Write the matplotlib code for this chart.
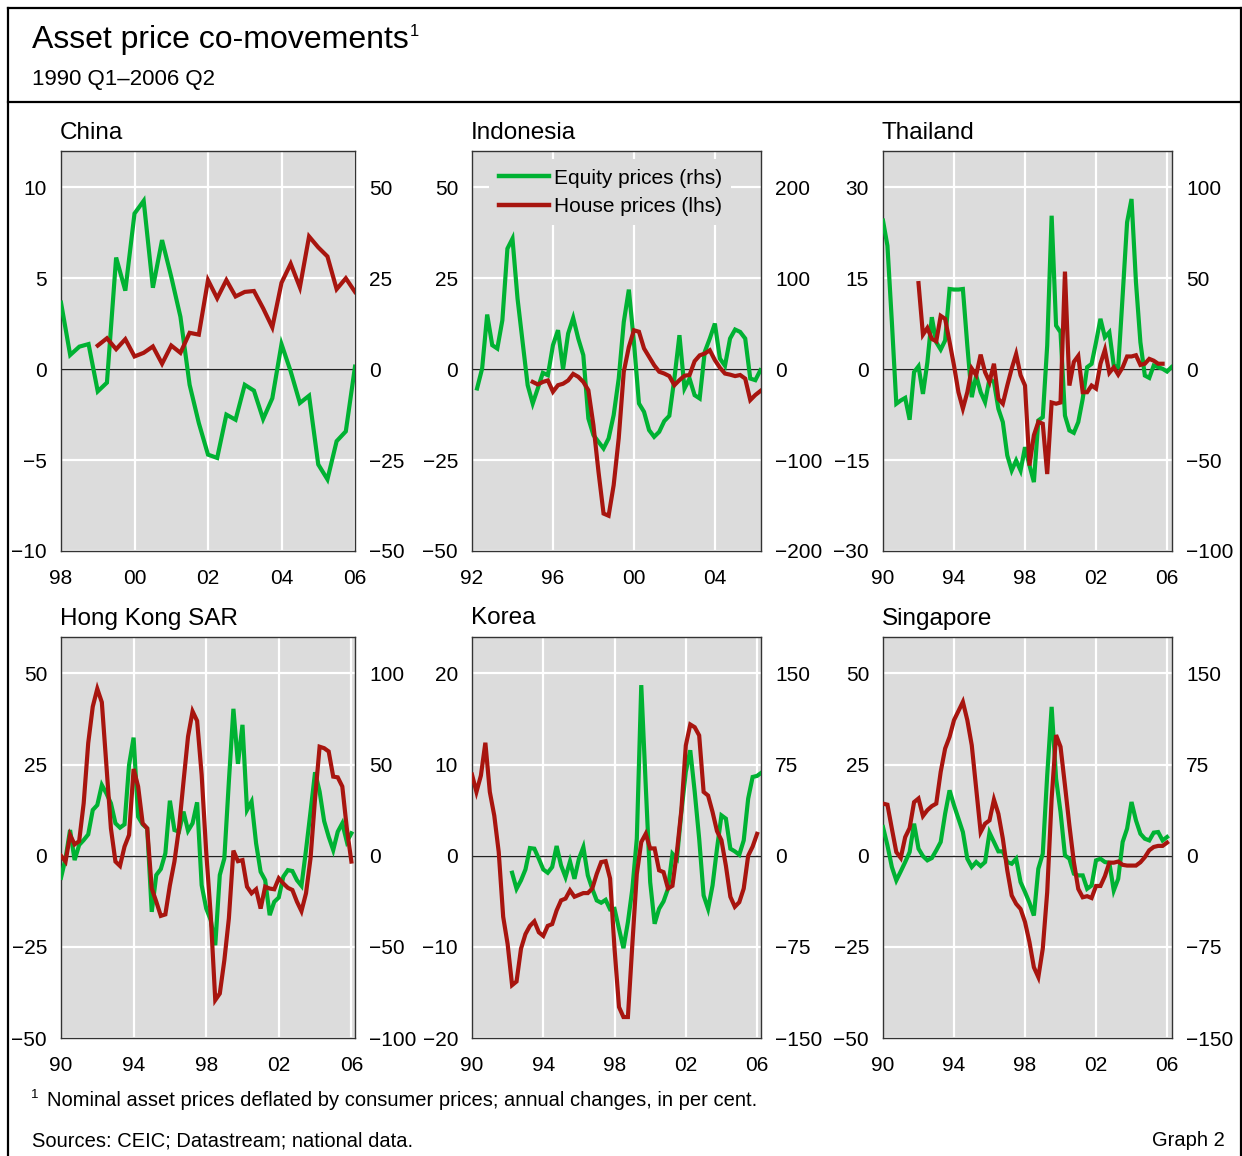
import matplotlib
matplotlib.use("Agg")
import matplotlib.pyplot as plt
from matplotlib.lines import Line2D
import numpy as np

plt.rcParams['font.family'] = ['Liberation Sans', 'DejaVu Sans']

GREEN = '#00b233'
RED = '#a8150f'
BG = '#dcdcdc'

# ---- data: annual changes, in per cent ----
# China: house (lhs) from 1999Q1, equity (rhs) from 1998Q1
china_house = [1.3, 1.7, 1.1, 1.65, 0.7, 0.9, 1.25, 0.3, 1.3, 0.9, 2.0, 1.9, 4.9, 3.9, 4.9,
               4.0, 4.25, 4.3, 3.35, 2.3, 4.75, 5.8, 4.5, 7.3, 6.7, 6.2, 4.4, 5.0, 4.25]
china_equity = [18.3, 3.9, 6.2, 6.9, -6.1, -3.7, 30.7, 21.6, 42.8, 46.3, 22.4, 35.5, 25.4,
                14.4, -4.3, -14.8, -23.5, -24.4, -12.5, -13.9, -4.3, -5.9, -13.7, -8.0,
                6.9, -0.6, -9.3, -7.3, -26.2, -30.3, -19.8, -17.1, 0.7]

# Indonesia: house from 1995Q1, equity from 1992Q2
indo_house = [-3.5, -4.2, -3.5, -3.1, -6.2, -4.4, -4.0, -3.1, -1.3, -2.1, -3.5, -5.8, -15.4,
              -28.2, -39.7, -40.3, -31.9, -19.0, -0.7, 6.1, 10.7, 10.3, 5.7, 3.4, 1.1, -0.7,
              -1.2, -1.9, -4.4, -3.0, -1.8, -1.6, 2.2, 3.8, 4.3, 5.2, 2.5, 0.4, -1.2, -1.5,
              -1.9, -1.6, -2.6, -8.5, -7.1, -6.0]
indo_equity = [-21.2, 0.7, 60.1, 26.4, 22.7, 53.8, 132.6, 143.6, 77.7, 30.0, -17.6, -37.7,
               -21.2, -4.0, -6.6, 26.4, 42.9, 0.0, 39.2, 56.4, 33.7, 15.4, -54.2, -72.5,
               -79.9, -87.2, -76.2, -50.5, -10.3, 52.0, 87.5, 30.0, -37.7, -46.9, -67.0,
               -74.4, -68.9, -57.1, -51.3, -10.3, 37.4, -21.2, -10.3, -28.6, -32.2, 19.0,
               33.7, 50.2, 11.7, 3.7, 33.7, 43.6, 41.0, 33.7, -10.3, -12.1, -1.1]

# Thailand: house from 1992Q1, equity from 1990Q1
thai_house = [14.2, 5.7, 6.8, 5.0, 4.6, 8.8, 8.3, 4.5, 0.6, -3.8, -6.5, -3.8, 0.1, -1.0, 2.4,
              -0.5, -2.1, 0.9, -4.9, -5.7, -2.7, 0.1, 2.5, -1.0, -2.7, -15.9, -10.9, -8.7,
              -9.0, -17.3, -5.5, -5.7, -5.5, 16.1, -2.7, 1.2, 2.2, -3.8, -3.8, -2.7, -3.2,
              0.9, 3.2, -0.6, 0.3, -0.9, 0.3, 2.1, 2.1, 2.3, 0.7, 0.9, 1.7, 1.4, 0.9, 0.9]
thai_equity = [81.7, 67.9, 25.8, -19.0, -17.2, -15.8, -27.8, -1.6, 1.6, -13.6, 3.8, 28.6,
               14.8, 10.8, 15.8, 44.1, 43.8, 43.8, 44.1, 13.0, -15.4, -3.5, -12.6, -18.1,
               -5.3, -7.1, -21.8, -29.1, -47.4, -55.7, -50.2, -55.7, -42.9, -52.9, -62.1,
               -28.2, -26.4, 13.0, 84.4, 24.0, 20.3, -25.5, -33.7, -35.0, -29.1, -16.3, 1.1,
               2.9, 14.8, 27.7, 17.6, 20.3, 2.0, 1.1, 40.5, 80.8, 93.6, 47.8, 14.8, -3.5,
               -4.8, 2.0, 1.1, 0.2, -1.3, 1.1]

# Hong Kong SAR: both from 1990Q1
hk_house = [0.0, -1.6, 5.7, 3.1, 4.0, 14.4, 30.9, 40.9, 45.8, 42.1, 24.9, 7.5, -1.6, -2.8,
            2.5, 5.7, 23.8, 19.0, 8.9, 7.5, -9.0, -12.6, -16.5, -16.1, -8.1, -1.6, 7.5,
            20.3, 32.7, 39.6, 37.0, 22.2, 1.1, -16.3, -39.6, -37.8, -28.7, -17.2, 1.4, -1.5,
            -1.2, -8.5, -10.3, -9.2, -14.5, -8.5, -9.0, -9.2, -6.2, -7.6, -8.8, -9.4, -12.6,
            -15.2, -10.3, -0.7, 15.8, 29.9, 29.5, 28.6, 21.7, 21.5, 19.0, 7.5, -1.6]
hk_equity = [-12.1, -1.5, 14.1, -2.4, 5.9, 8.6, 11.7, 25.1, 27.8, 38.8, 34.2, 28.8, 17.8,
             15.4, 17.2, 49.8, 64.8, 21.4, 17.2, 15.0, -30.8, -10.6, -7.3, 1.3, 30.2, 14.1,
             13.2, 24.2, 13.7, 17.8, 29.3, -16.1, -28.9, -35.3, -49.1, -10.6, -1.5, 40.7,
             80.6, 50.4, 71.8, 25.1, 29.7, 6.8, -8.8, -13.4, -32.6, -25.3, -22.9, -11.5,
             -7.9, -8.4, -13.4, -16.5, 3.1, 24.2, 45.8, 35.2, 19.0, 10.4, 3.1, 13.2, 17.8,
             7.7, 12.3]

# Korea: house from 1990Q1, equity from 1992Q2
korea_house = [8.9, 7.0, 8.8, 12.4, 7.0, 4.4, 0.4, -6.7, -9.7, -14.2, -13.8, -10.2, -8.6,
               -7.7, -7.2, -8.4, -8.8, -7.7, -7.5, -6.0, -4.9, -4.7, -3.8, -4.5, -4.3, -4.1,
               -4.1, -3.6, -2.0, -0.7, -0.6, -2.5, -10.2, -16.6, -17.7, -17.7, -9.7, -2.0,
               1.5, 2.4, 0.8, 0.8, -1.6, -1.8, -3.6, -3.3, 0.4, 5.0, 12.1, 14.4, 14.1, 13.2,
               7.0, 6.6, 4.8, 2.7, 1.7, -1.1, -4.5, -5.6, -5.1, -3.6, 0.0, 1.0, 2.4]
korea_equity = [-14.0, -27.2, -20.3, -11.3, 6.3, 5.8, -2.5, -11.3, -14.0, -9.3, 8.0, -8.0,
                -17.6, -4.7, -19.0, -2.5, 7.1, -16.2, -27.2, -36.8, -38.7, -36.3, -44.2,
                -43.7, -60.2, -76.1, -54.7, -27.2, 14.0, 140.4, 58.0, -21.7, -56.0, -43.7,
                -37.6, -27.2, 1.6, -2.5, 36.0, 69.0, 86.8, 52.5, 14.0, -32.7, -43.7, -24.5,
                5.8, 33.2, 30.5, 5.8, 3.6, 0.8, 12.6, 47.0, 64.8, 65.7, 68.4]

# Singapore: both from 1990Q1
sing_house = [14.3, 14.0, 7.4, 1.0, -0.6, 5.1, 7.6, 14.7, 15.7, 10.9, 12.5, 13.6, 14.3,
              23.0, 29.4, 32.6, 37.2, 39.7, 42.2, 37.2, 30.3, 18.4, 6.5, 8.8, 9.7, 15.4,
              11.5, 4.7, -4.0, -10.9, -13.2, -14.6, -18.2, -23.7, -30.6, -33.3, -25.5,
              -10.0, 15.7, 33.1, 29.9, 19.3, 8.3, -1.7, -9.1, -11.4, -11.1, -11.6, -8.3,
              -8.3, -5.6, -1.9, -1.9, -1.6, -2.5, -2.7, -2.7, -2.7, -1.8, -0.4, 1.5, 2.4,
              2.7, 2.7, 3.6]
sing_equity = [23.6, 8.5, -9.3, -20.3, -12.9, -5.2, 3.0, 26.4, 5.8, -0.3, -3.8, -1.9, 4.4,
               11.3, 34.6, 53.8, 41.5, 30.5, 19.5, -2.5, -9.3, -5.2, -8.5, -5.2, 19.0, 11.3,
               3.6, 3.6, -5.2, -6.6, -2.5, -21.7, -29.9, -38.7, -49.2, -10.7, 1.6, 66.2,
               122.5, 63.5, 36.0, 0.3, -2.5, -14.8, -16.2, -16.2, -27.2, -24.5, -3.8, -2.5,
               -5.2, -5.8, -28.6, -19.0, 11.3, 22.3, 44.2, 29.1, 18.1, 14.0, 12.6, 19.0,
               19.5, 12.6, 15.4]

# panel settings: name, house, house start, equity, equity start,
# lhs ticks, rhs ticks, x ticks, x range
panels = [
    ('China', china_house, 1999.0, china_equity, 1998.0,
     [-10, -5, 0, 5, 10], [-50, -25, 0, 25, 50], [1998, 2000, 2002, 2004, 2006], (1998, 2006)),
    ('Indonesia', indo_house, 1995.0, indo_equity, 1992.25,
     [-50, -25, 0, 25, 50], [-200, -100, 0, 100, 200], [1992, 1996, 2000, 2004], (1992, 2006.28)),
    ('Thailand', thai_house, 1992.0, thai_equity, 1990.0,
     [-30, -15, 0, 15, 30], [-100, -50, 0, 50, 100], [1990, 1994, 1998, 2002, 2006], (1990, 2006.28)),
    ('Hong Kong SAR', hk_house, 1990.0, hk_equity, 1990.0,
     [-50, -25, 0, 25, 50], [-100, -50, 0, 50, 100], [1990, 1994, 1998, 2002, 2006], (1990, 2006.2)),
    ('Korea', korea_house, 1990.0, korea_equity, 1992.25,
     [-20, -10, 0, 10, 20], [-150, -75, 0, 75, 150], [1990, 1994, 1998, 2002, 2006], (1990, 2006.22)),
    ('Singapore', sing_house, 1990.0, sing_equity, 1990.0,
     [-50, -25, 0, 25, 50], [-150, -75, 0, 75, 150], [1990, 1994, 1998, 2002, 2006], (1990, 2006.28)),
]

W, H = 1242, 1156
fig = plt.figure(figsize=(W / 100, H / 100), dpi=100)

# axes boxes in pixels: left, right, top, bottom
cols = [(61, 355), (472, 761), (883, 1172)]
rows = [(151, 551), (637, 1038)]


def fmt_year(y):
    return '%02d' % (int(y) % 100)


for i, (name, house, h0, equity, e0, lt, rt, xt, xr) in enumerate(panels):
    l, r = cols[i % 3]
    t, b = rows[i // 3]
    ax = fig.add_axes([l / W, 1 - b / H, (r - l) / W, (b - t) / H])
    ax.set_facecolor(BG)
    ax.set_ylim(lt[0], lt[-1] * 1.2)
    ax.set_xlim(*xr)
    ax.set_yticks(lt)
    ax.set_xticks(xt)
    ax.set_xticklabels([fmt_year(y) for y in xt])
    ax.grid(True, color='white', lw=1.6)
    ax.set_axisbelow(True)
    ax.axhline(0, color='#222222', lw=1.0, zorder=2)
    ax.tick_params(length=0, labelsize=15, colors='black')
    ax.tick_params(axis='y', pad=10)
    ax.tick_params(axis='x', pad=13)
    for s in ax.spines.values():
        s.set_color('#333333')
        s.set_linewidth(1.0)

    ax2 = ax.twinx()
    ax2.set_ylim(rt[0], rt[-1] * 1.2)
    ax2.set_yticks(rt)
    ax2.tick_params(length=0, labelsize=15, pad=10)
    for s in ax2.spines.values():
        s.set_visible(False)

    xh = h0 + 0.25 * np.arange(len(house))
    xe = e0 + 0.25 * np.arange(len(equity))
    # draw both on the lhs axis so the red sits above the green
    scale = lt[-1] / rt[-1]
    ax.plot(xe, np.array(equity) * scale, color=GREEN, lw=3.0, zorder=3,
            solid_joinstyle='miter', label='Equity prices (rhs)')
    ax.plot(xh, house, color=RED, lw=3.0, zorder=4,
            solid_joinstyle='miter', label='House prices (lhs)')

    ax.set_title(name, loc='left', fontsize=17.5, pad=9, x=-0.005)

    if name == 'Indonesia':
        leg = ax.legend(loc='upper left', bbox_to_anchor=(0.045, 0.99), fontsize=15,
                        frameon=True, facecolor=BG, edgecolor='none', framealpha=1,
                        handlelength=2.4, handletextpad=0.25, borderpad=0.45,
                        labelspacing=0.45, borderaxespad=0.2)
        leg.get_frame().set_boxstyle('square', pad=0)
        for ln in leg.get_lines():
            ln.set_linewidth(3.2)

# header / footer text
fig.text(32 / W, 1 - 40 / H, 'Asset price co-movements', fontsize=23, va='center', ha='left')
fig.text(410 / W, 1 - 32 / H, '1', fontsize=12, va='center', ha='left')
fig.text(32 / W, 1 - 80 / H, '1990 Q1\u20132006 Q2', fontsize=16, va='center', ha='left')
fig.text(31 / W, 1 - 1095 / H, '1', fontsize=9.5, va='center', ha='left')
fig.text(47 / W, 1 - 1100 / H,
         'Nominal asset prices deflated by consumer prices; annual changes, in per cent.',
         fontsize=14.5, va='center', ha='left')
fig.text(32 / W, 1 - 1141 / H, 'Sources: CEIC; Datastream; national data.',
         fontsize=14.5, va='center', ha='left')
fig.text(1225 / W, 1 - 1141 / H, 'Graph 2', fontsize=14.5, va='center', ha='right')

# outer frame and title separator
frame = dict(color='black', lw=1.6)
fig.add_artist(Line2D([8 / W, 8 / W], [0, 1 - 8 / H], **frame))
fig.add_artist(Line2D([1240.5 / W, 1240.5 / W], [0, 1 - 8 / H], **frame))
fig.add_artist(Line2D([8 / W, 1240.5 / W], [1 - 8 / H, 1 - 8 / H], **frame))
fig.add_artist(Line2D([8 / W, 1240.5 / W], [1 - 102 / H, 1 - 102 / H], **frame))

fig.savefig('out.png', dpi=100, facecolor='white')
